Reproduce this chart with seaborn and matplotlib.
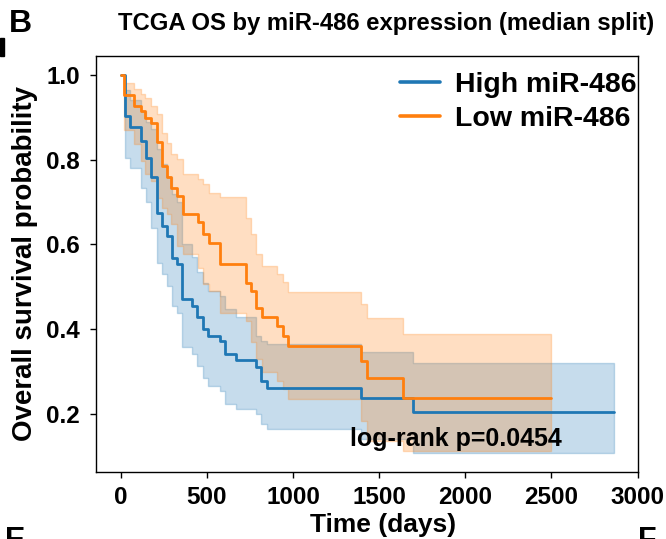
import numpy as np
import pandas as pd
import matplotlib
matplotlib.use("Agg")
import matplotlib.pyplot as plt
from matplotlib.patches import Rectangle
import seaborn as sns

# ---- data (Kaplan-Meier step curves, days) ----
high_t = [0, 23, 52, 120, 146, 175, 212, 243, 272, 297, 328, 358, 417, 444, 479,
          508, 576, 605, 667, 788, 817, 847, 1396, 1699, 2862]
high_s = [1.0, 0.903, 0.877, 0.844, 0.804, 0.759, 0.675, 0.644, 0.620, 0.567, 0.554,
          0.471, 0.455, 0.428, 0.400, 0.383, 0.373, 0.341, 0.328, 0.310, 0.278, 0.262,
          0.239, 0.205, 0.205]
high_lo = [1.0, 0.805, 0.781, 0.734, 0.70, 0.64, 0.557, 0.530, 0.502, 0.455, 0.439,
           0.357, 0.341, 0.314, 0.286, 0.267, 0.255, 0.223, 0.212, 0.200, 0.176, 0.164,
           0.14, 0.109, 0.109]
high_hi = [1.0, 0.965, 0.940, 0.915, 0.888, 0.872, 0.825, 0.79, 0.76, 0.72, 0.70,
           0.60, 0.57, 0.534, 0.51, 0.491, 0.479, 0.447, 0.43, 0.384, 0.373, 0.366,
           0.347, 0.321, 0.321]

low_t = [0, 20, 80, 117, 143, 178, 209, 242, 270, 295, 328, 363, 450, 479, 514, 574,
         727, 754, 788, 818, 908, 940, 969, 1397, 1427, 1638, 2497]
low_s = [1.0, 0.952, 0.927, 0.915, 0.899, 0.887, 0.841, 0.785, 0.758, 0.734, 0.715,
         0.671, 0.654, 0.624, 0.604, 0.554, 0.510, 0.491, 0.451, 0.429, 0.407, 0.384,
         0.361, 0.325, 0.284, 0.237, 0.237]
low_hi = [1.0, 0.982, 0.966, 0.954, 0.946, 0.927, 0.907, 0.864, 0.840, 0.813, 0.801,
          0.766, 0.754, 0.742, 0.722, 0.711, 0.663, 0.624, 0.577, 0.550, 0.530, 0.511,
          0.488, 0.459, 0.426, 0.388, 0.388]
low_lo = [1.0, 0.870, 0.837, 0.797, 0.767, 0.75, 0.71, 0.685, 0.671, 0.648, 0.597,
          0.577, 0.545, 0.506, 0.491, 0.439, 0.42, 0.37, 0.33, 0.30, 0.278, 0.259,
          0.235, 0.184, 0.137, 0.113, 0.113]

group_labels = ["High miR-486", "Low miR-486"]
xticks = [0, 500, 1000, 1500, 2000, 2500, 3000]
yticks = [0.2, 0.4, 0.6, 0.8, 1.0]
pvalue_text = "log-rank p=0.0454"

# ---- styling ----
sns.set_style("ticks")
plt.rcParams["font.family"] = ["Liberation Sans", "DejaVu Sans"]
plt.rcParams["font.weight"] = "bold"
for key in ["text.color", "axes.labelcolor", "xtick.color", "ytick.color",
            "axes.edgecolor"]:
    plt.rcParams[key] = "black"

blue = "#1f77b4"
orange = "#ff7f0e"

df = pd.concat([
    pd.DataFrame({"t": high_t, "s": high_s, "lo": high_lo, "hi": high_hi, "g": group_labels[0]}),
    pd.DataFrame({"t": low_t, "s": low_s, "lo": low_lo, "hi": low_hi, "g": group_labels[1]}),
], ignore_index=True)

fig = plt.figure(figsize=(6.66, 5.39), dpi=100)
ax = fig.add_axes([0.1441, 0.1252, 0.8146, 0.7709])

palette = {group_labels[0]: blue, group_labels[1]: orange}
for g in group_labels:
    d = df[df.g == g]
    ax.fill_between(d.t, d.lo, d.hi, step="post", color=palette[g], alpha=0.25,
                    linewidth=1.0)

sns.lineplot(data=df, x="t", y="s", hue="g", palette=palette, estimator=None,
             sort=False, drawstyle="steps-post", linewidth=2.0, ax=ax, legend=True)

ax.set_xticks(xticks)
ax.set_yticks(yticks)
ax.set_xlim(-143, 3005)
ax.set_ylim(0.0644, 1.0446)
ax.tick_params(axis="both", labelsize=17.5, length=4.5, width=1.0, direction="out",
               colors="black")
ax.tick_params(axis="y", pad=7)
ax.tick_params(axis="x", pad=6)
for lab in ax.get_xticklabels() + ax.get_yticklabels():
    lab.set_fontweight("bold")
for sp in ax.spines.values():
    sp.set_visible(True)
    sp.set_linewidth(1.0)
    sp.set_color("black")

ax.set_xlabel("Time (days)", fontsize=19, fontweight="bold", labelpad=3, x=0.529)
ax.set_ylabel("Overall survival probability", fontsize=20, fontweight="bold", labelpad=6)

handles, labels = ax.get_legend_handles_labels()
for h in handles:
    h.set_linewidth(2.6)
ax.legend(handles, labels, loc="upper left", bbox_to_anchor=(0.5605, 0.962),
          frameon=False, handlelength=1.4, handletextpad=0.53,
          labelspacing=0.3, borderpad=0, borderaxespad=0,
          prop={"weight": "bold", "size": 20.5})

ax.text(0.468, 0.062, pvalue_text, transform=ax.transAxes, fontsize=18,
        fontweight="bold", ha="left", va="baseline")

fig.text(0.580, 0.9555, "TCGA OS by miR-486 expression (median split)",
         fontsize=17.2, fontweight="bold", ha="center", va="center")
fig.text(0.030, 0.956, "B", fontsize=23, fontweight="bold", ha="center", va="center")
fig.text(0.008, 0.024, "E", fontsize=22, fontweight="bold", ha="left", va="top")
fig.text(0.958, 0.024, "F", fontsize=22, fontweight="bold", ha="left", va="top")
fig.add_artist(Rectangle((0.0, 1 - 56 / 539), 4 / 666, 18 / 539, color="black",
                         transform=fig.transFigure))

fig.savefig("out.png", dpi=100)
